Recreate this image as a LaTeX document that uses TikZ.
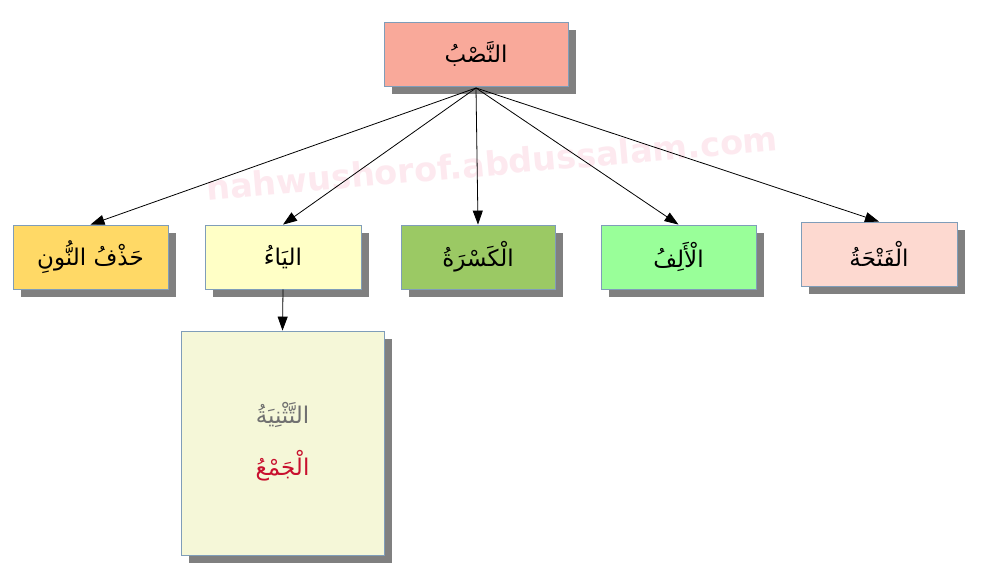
\documentclass[tikz,border=0pt]{standalone}
\usepackage{fontspec}
\usetikzlibrary{arrows.meta,shadows}
\TeXXeTstate=1
\newfontfamily\arabicfont[Script=Arabic]{DejaVu Sans}
\newfontfamily\wmfont{DejaVu Sans}
\definecolor{boxborder}{HTML}{7F9DB9}
\definecolor{shadowgray}{HTML}{808080}
\definecolor{cTop}{HTML}{F9A99A}
\definecolor{cHadhf}{HTML}{FFD966}
\definecolor{cYa}{HTML}{FFFFC6}
\definecolor{cKasra}{HTML}{9BC964}
\definecolor{cAlif}{HTML}{99FF99}
\definecolor{cFatha}{HTML}{FDD9D0}
\definecolor{cBottom}{HTML}{F5F7D8}
\definecolor{cGray}{HTML}{707070}
\definecolor{cRed}{HTML}{C8102E}
\definecolor{cWater}{HTML}{FDE9EF}
\begin{document}
\begin{tikzpicture}[x=1pt,y=-1pt,
  box/.style={draw=boxborder, line width=0.8pt, inner sep=0pt,
    font=\arabicfont\fontsize{23}{28}\selectfont,
    drop shadow={shadow xshift=8pt, shadow yshift=-8pt, fill=shadowgray, opacity=1}},
  small/.style={box, minimum width=155pt, minimum height=64pt},
  conn/.style={line width=0.8pt, -{Triangle[length=14pt,width=10pt]}},
  lbl/.style={font=\arabicfont\fontsize{23}{28}\selectfont, inner sep=0pt}]
\useasboundingbox (0,0) rectangle (986,585);
\fill[white] (0,0) rectangle (986,585);
\node[font=\wmfont\bfseries\fontsize{33.5}{34}\selectfont, text=cWater, rotate=5] (wm) at (492,163) {nahwushorof.abdussalam.com};
\node[box, fill=cTop, minimum width=184pt, minimum height=64pt] (top) at (476,54) {\beginR النَّصْبُ\endR};
\node[small, fill=cHadhf] (hadhf) at (90.5,257) {\beginR حَذْفُ النُّونِ\endR};
\node[small, fill=cYa, minimum width=156pt] (ya) at (283,257) {\beginR اليَاءُ\endR};
\node[small, fill=cKasra, minimum width=154pt] (kasra) at (478,257) {\beginR الْكَسْرَةُ\endR};
\node[small, fill=cAlif] (alif) at (678.5,257) {\beginR الْأَلِفُ\endR};
\node[small, fill=cFatha, minimum width=156pt] (fatha) at (879,254) {\beginR الْفَتْحَةُ\endR};
\node[box, fill=cBottom, minimum width=203pt, minimum height=224pt] (bottom) at (282.5,443) {};
\node[lbl, text=cGray] (tathniya) at (282.5,415) {\beginR التَّثْنِيَةُ\endR};
\node[lbl, text=cRed] (jam) at (282.5,466) {\beginR الْجَمْعُ\endR};
\coordinate (src) at (476,88);
\draw[conn] (src) -- (hadhf.north);
\draw[conn] (src) -- (ya.north);
\draw[conn] (src) -- (kasra.north);
\draw[conn] (src) -- (alif.north);
\draw[conn] (src) -- (fatha.north);
\draw[conn] (ya.south) -- (bottom.north);
\end{tikzpicture}
\end{document}
